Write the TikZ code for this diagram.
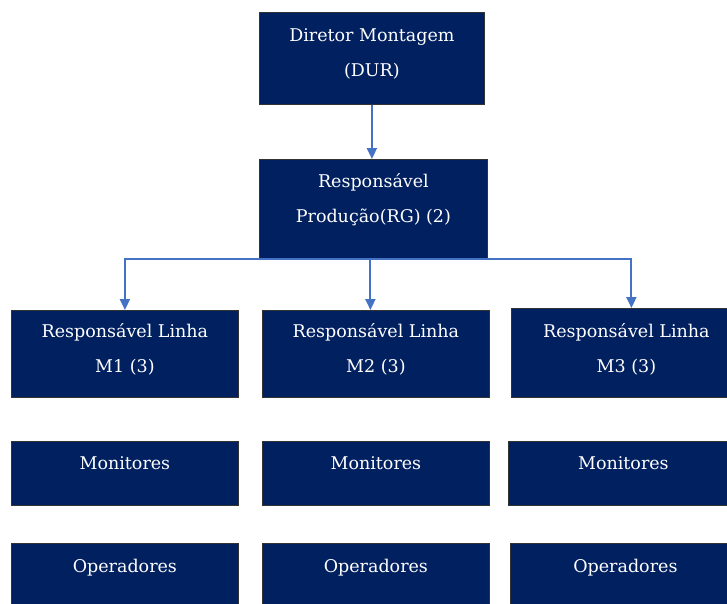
\documentclass[tikz,border=0pt]{standalone}
\usepackage{fontspec}
\setmainfont{DejaVu Serif}
\usepackage{tikz}
\usetikzlibrary{positioning,arrows.meta}
\definecolor{marinho}{HTML}{002060}
\definecolor{seta}{HTML}{4472C4}

\begin{document}
\begin{tikzpicture}[
    x=1pt, y=-1pt,
    caixa/.style={rectangle, fill=marinho, draw=black!80, line width=0.8pt, text=white,
    inner sep=0pt, align=center, anchor=north west, font=\fontsize{17.5}{35}\selectfont},
    seta/.style={draw=seta, line width=2pt, -{Triangle[width=10pt,length=11pt]}}
    ]
\useasboundingbox (0,0) rectangle (727,603);

%topo
\node[caixa, minimum width=225pt, text height=64.5pt, text depth=27.5pt] (diretor) at (259,12) {Diretor Montagem\\(DUR)};
\node[caixa, minimum width=228pt, text height=63.5pt, text depth=35.5pt] (producao) at (259,159) {Responsável\\Produção(RG) (2)};

%linhas
\node[caixa, minimum width=227pt, text height=62.5pt, text depth=24.5pt] (linhaA) at (11,310) {Responsável Linha\\M1 (3)};
\node[caixa, minimum width=227pt, text height=62.5pt, text depth=24.5pt] (linhaB) at (262,310) {Responsável Linha\\M2 (3)};
\node[caixa, minimum width=230pt, text height=64.5pt, text depth=24.5pt] (linhaC) at (511,308) {Responsável Linha\\M3 (3)};

%monitores
\node[caixa, minimum width=227pt, text height=28pt, text depth=36pt] (monA) at (11,441) {Monitores};
\node[caixa, minimum width=227pt, text height=28pt, text depth=36pt] (monB) at (262,441) {Monitores};
\node[caixa, minimum width=230pt, text height=28pt, text depth=36pt] (monC) at (508,441) {Monitores};

%operadores
\node[caixa, minimum width=227pt, text height=29.5pt, text depth=34.5pt] (opA) at (11,543) {Operadores};
\node[caixa, minimum width=227pt, text height=29.5pt, text depth=34.5pt] (opB) at (262,543) {Operadores};
\node[caixa, minimum width=230pt, text height=29.5pt, text depth=34.5pt] (opC) at (510,543) {Operadores};

%setas
\draw[seta] (diretor.south) -- (diretor.south |- producao.north);
\draw[seta] ([xshift=-3pt]producao.south) -- ([xshift=-3pt]producao.south |- linhaB.north);
\draw[seta] (producao.south) -| (linhaA.north);
\draw[seta] (producao.south) -| ([xshift=5pt]linhaC.north);
\end{tikzpicture}
\end{document}
